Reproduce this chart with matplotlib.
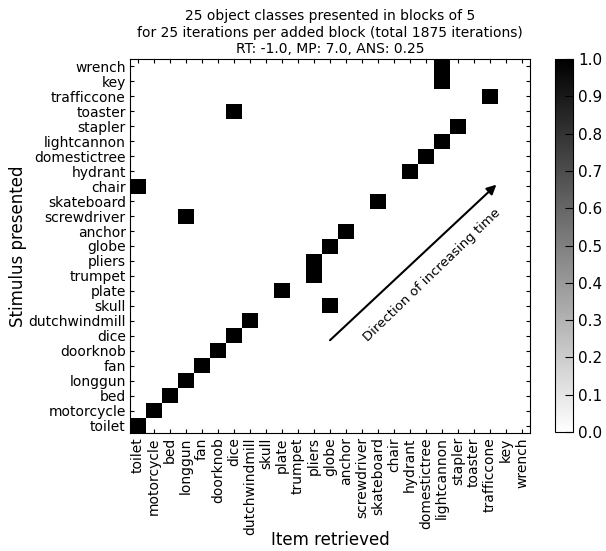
import numpy as np
import matplotlib
matplotlib.use("Agg")
import matplotlib.pyplot as plt

items = ["toilet", "motorcycle", "bed", "longgun", "fan", "doorknob", "dice",
         "dutchwindmill", "skull", "plate", "trumpet", "pliers", "globe", "anchor",
         "screwdriver", "skateboard", "chair", "hydrant", "domestictree",
         "lightcannon", "stapler", "toaster", "trafficcone", "key", "wrench"]

# For each stimulus presented (row), the item retrieved (column)
retrieved = ["toilet", "motorcycle", "bed", "longgun", "fan", "doorknob", "dice",
             "dutchwindmill", "globe", "plate", "pliers", "pliers", "globe", "anchor",
             "longgun", "skateboard", "toilet", "hydrant", "domestictree",
             "lightcannon", "stapler", "dice", "trafficcone", "lightcannon", "lightcannon"]

cbar_ticks = [0.0, 0.1, 0.2, 0.3, 0.4, 0.5, 0.6, 0.7, 0.8, 0.9, 1.0]

n = len(items)
mat = np.zeros((n, n))
for r, it in enumerate(retrieved):
    mat[r, items.index(it)] = 1.0

plt.rcParams['font.family'] = ['DejaVu Sans']
fig = plt.figure(figsize=(6.06, 5.51), dpi=100)
ax = fig.add_axes([130/606, (551-433)/551, 400/606, 374/551])
im = ax.imshow(mat, cmap='gray_r', vmin=0, vmax=1, origin='lower',
               interpolation='nearest', aspect='auto')
ax.set_xticks(range(n))
ax.set_xticklabels(items, rotation=90, fontsize=10)
ax.set_yticks(range(n))
ax.set_yticklabels(items, fontsize=10)
ax.tick_params(direction='in', top=True, right=True, length=3, width=0.8, pad=3)
ax.set_xlabel("Item retrieved", fontsize=12)
ax.xaxis.set_label_coords(0.5, -0.262)
ax.set_ylabel("Stimulus presented", fontsize=12)
ax.yaxis.set_label_coords(-0.258, 0.5)
ax.set_title("25 object classes presented in blocks of 5\n"
             "for 25 iterations per added block (total 1875 iterations)\n"
             "RT: -1.0, MP: 7.0, ANS: 0.25", fontsize=10, pad=4, linespacing=1.25)

ax.annotate("", xy=(22.4, 16.1), xytext=(12.0, 5.7),
            arrowprops=dict(arrowstyle='-|>', color='black', lw=1.5,
                            mutation_scale=14, shrinkA=0, shrinkB=0))
ax.text(18.4, 10.03, "Direction of increasing time", rotation=44, fontsize=9.5,
        ha='center', va='center', rotation_mode='anchor')

cax = fig.add_axes([555/606, (551-432)/551, 18/606, 373/551])
cb = fig.colorbar(im, cax=cax, ticks=cbar_ticks)
cb.ax.tick_params(direction='in', length=6, labelsize=11)
cb.ax.set_yticklabels([f"{v:.1f}" for v in cbar_ticks])

fig.savefig("out.png", dpi=100)
